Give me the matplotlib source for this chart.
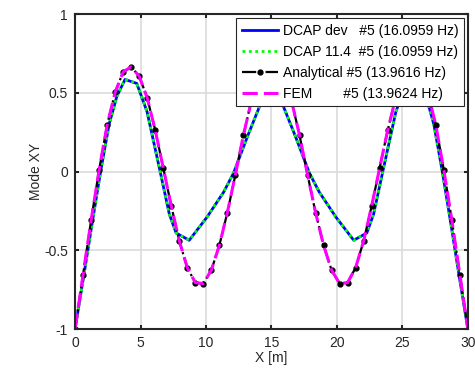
import matplotlib
matplotlib.use("Agg")
import matplotlib.pyplot as plt
import numpy as np

plt.rcParams["font.family"] = ["Liberation Sans", "DejaVu Sans"]

# analytical / FEM mode shape, 50 stations along the beam
x_an = np.linspace(0, 30, 50)
y_an = [-1.0, -0.654, -0.31, 0.01, 0.295, 0.503, 0.633, 0.665, 0.606, 0.468,
        0.263, 0.024, -0.218, -0.44, -0.61, -0.705, -0.711, -0.626, -0.468, -0.26,
        -0.02, 0.231, 0.45, 0.62, 0.70, 0.70, 0.62, 0.45, 0.231, -0.02,
        -0.26, -0.468, -0.626, -0.711, -0.705, -0.61, -0.44, -0.218, 0.024, 0.263,
        0.468, 0.606, 0.665, 0.633, 0.503, 0.295, 0.01, -0.31, -0.654, -1.0]
y_fem = y_an

# DCAP mode shape (coarser, both versions identical)
x_dcap = [0.0, 0.65, 1.3, 1.95, 2.6, 3.2, 3.82, 4.71, 5.5, 6.5, 7.2, 7.72, 8.72,
          10.07, 11.35, 12.1, 13.2, 14.12, 14.6, 15.4, 15.88, 16.8, 17.9, 18.65,
          19.93, 21.28, 22.28, 22.8, 23.5, 24.5, 25.29, 26.18, 26.8, 27.4, 28.05,
          28.7, 29.35, 30.0]
y_dcap = [-1.0, -0.67, -0.33, 0.0, 0.3, 0.48, 0.585, 0.56, 0.38, 0.0, -0.27,
          -0.39, -0.436, -0.29, -0.13, -0.01, 0.23, 0.42, 0.49, 0.49, 0.42, 0.23,
          -0.01, -0.13, -0.29, -0.436, -0.39, -0.27, 0.0, 0.38, 0.56, 0.585, 0.48,
          0.3, 0.0, -0.33, -0.67, -1.0]

labels = ["DCAP dev   #5 (16.0959 Hz)",
          "DCAP 11.4  #5 (16.0959 Hz)",
          "Analytical #5 (13.9616 Hz)",
          "FEM        #5 (13.9624 Hz)"]

fig = plt.figure(figsize=(4.75, 3.71), dpi=100)
ax = fig.add_axes([0.158, 0.113, 0.827, 0.849])

ax.plot(x_dcap, y_dcap, color="blue", lw=2.0, label=labels[0])
ax.plot(x_dcap, y_dcap, color=(0, 1, 0), lw=2.0, linestyle=(0, (1, 1.3)),
        dash_capstyle="butt", label=labels[1])
ax.plot(x_an, y_an, color="black", lw=1.6, linestyle="-.", marker=".",
        markersize=7, label=labels[2])
ax.plot(x_an, y_fem, color="magenta", lw=2.2, linestyle=(0, (5, 2)),
        label=labels[3])

ax.set_xlim(0, 30)
ax.set_ylim(-1, 1)
ax.set_xticks([0, 5, 10, 15, 20, 25, 30])
ax.set_yticks([-1, -0.5, 0, 0.5, 1])
ax.set_yticklabels(["-1", "-0.5", "0", "0.5", "1"])
ax.grid(True, color="#dcdcdc", lw=1.2)
ax.set_axisbelow(True)
for s in ax.spines.values():
    s.set_linewidth(1.5)
    s.set_color("#262626")
ax.tick_params(direction="in", length=3, width=1.5, top=True, right=True,
               labelsize=10, colors="#262626", pad=5)
ax.set_xlabel("X [m]", fontsize=10, color="#262626", labelpad=1)
ax.set_ylabel("Mode XY", fontsize=10, color="#262626", labelpad=1)

leg = ax.legend(loc="upper right", fontsize=10, handlelength=2.6,
                handletextpad=0.35, labelspacing=0.5, borderpad=0.4,
                borderaxespad=0.3, fancybox=False, framealpha=1)
leg.get_frame().set_edgecolor("#262626")
leg.get_frame().set_linewidth(0.8)

plt.savefig("out.png", dpi=100)
plt.close()
